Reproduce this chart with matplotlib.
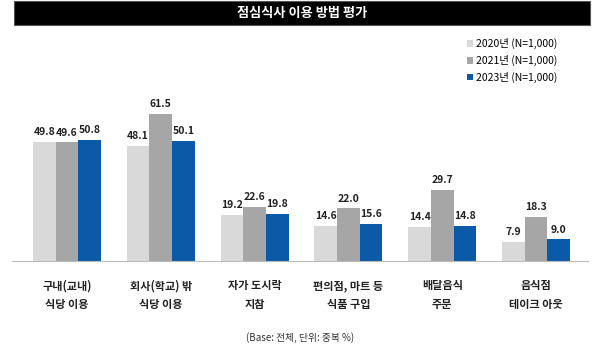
import numpy as np
import matplotlib.pyplot as plt
from matplotlib.patches import Rectangle

plt.rcParams["font.family"] = ["Noto Sans CJK KR", "DejaVu Sans"]

# 데이터
categories = ["구내(교내)\n식당 이용", "회사(학교) 밖\n식당 이용", "자가 도시락\n지참",
              "편의점, 마트 등\n식품 구입", "배달음식\n주문", "음식점\n테이크 아웃"]
series_names = ["2020년 (N=1,000)", "2021년 (N=1,000)", "2023년 (N=1,000)"]
v2020 = [49.8, 48.1, 19.2, 14.6, 14.4, 7.9]
v2021 = [49.6, 61.5, 22.6, 22.0, 29.7, 18.3]
v2023 = [50.8, 50.1, 19.8, 15.6, 14.8, 9.0]

COLORS = ["#d9d9d9", "#a6a6a6", "#0b5aa8"]
BAR_W = 0.242

fig = plt.figure(figsize=(6, 3.51), dpi=100)

# 제목 바
fig.patches.append(Rectangle((14 / 600, 1 - 25 / 351), 576 / 600, 24 / 351,
                             transform=fig.transFigure, facecolor="black",
                             edgecolor="#555555", linewidth=0.8))
fig.text(0.503, 1 - 13 / 351, "점심식사 이용 방법 평가", color="white",
         fontsize=9.5, fontweight="bold", ha="center", va="center")

ax = fig.add_axes([12 / 600, 90 / 351, 576 / 600, 231 / 351])
x = np.arange(len(categories))
for i, vals in enumerate([v2020, v2021, v2023]):
    pos = x + (i - 1) * BAR_W
    ax.bar(pos, vals, width=BAR_W, color=COLORS[i], label=series_names[i], zorder=2)
    for p, v in zip(pos, vals):
        ax.text(p, v + 2.0, f"{v:.1f}", ha="center", va="bottom",
                fontsize=7.5, fontweight="bold", color="#222222")

ax.set_xlim(-0.585, 5.553)
ax.set_ylim(0, 231 / 2.39)
for s in ["top", "right", "left"]:
    ax.spines[s].set_visible(False)
ax.spines["bottom"].set_color("#bbbbbb")
ax.spines["bottom"].set_linewidth(0.8)
ax.set_yticks([])
ax.set_xticks(x)
ax.set_xticklabels(categories, fontsize=8, fontweight="bold", color="#222222",
                   linespacing=1.55)
ax.tick_params(axis="x", length=0, pad=13)

ax.legend(loc="upper left", bbox_to_anchor=(446 / 576, 1.005), frameon=False,
          fontsize=7.5, handlelength=0.55, handleheight=0.55, handletextpad=0.3,
          labelspacing=0.55)

fig.text(0.5, 1 - 338 / 351, "(Base: 전체, 단위: 중복 %)", fontsize=7,
         ha="center", va="center", color="#333333")

fig.savefig("out.png", dpi=100, facecolor="white")
